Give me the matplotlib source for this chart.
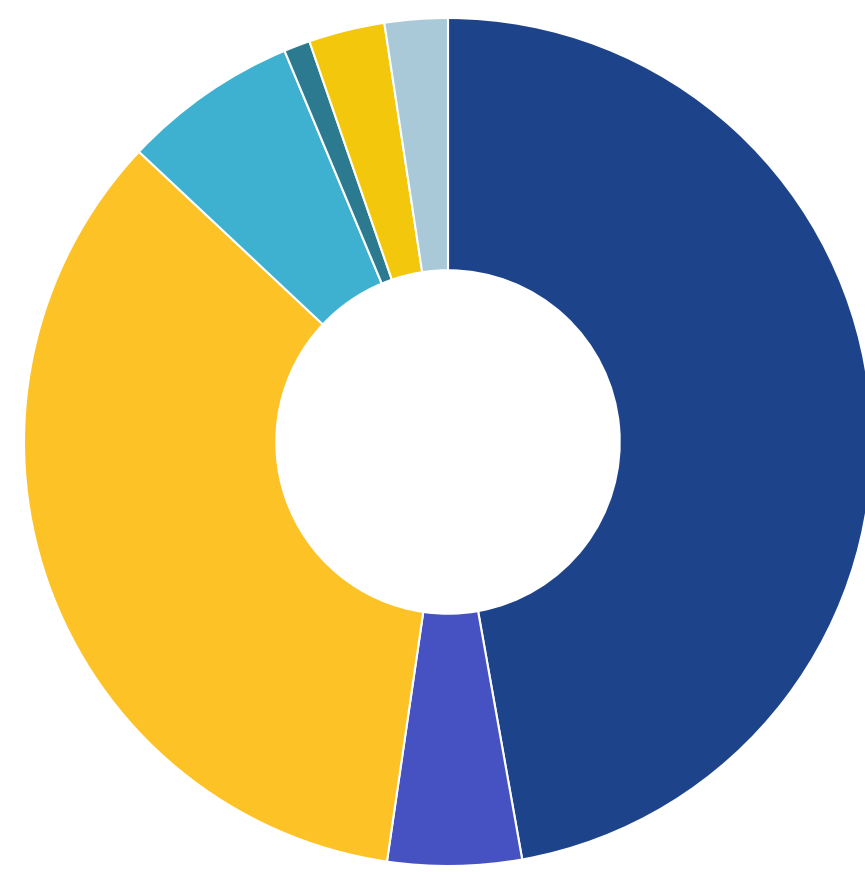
import matplotlib
matplotlib.use('Agg')
import matplotlib.pyplot as plt

# share of each segment (percent), clockwise from 12 o'clock
labels = ['A', 'B', 'C', 'D', 'E', 'F', 'G']
values = [47.2, 5.1, 34.7, 6.7, 1.0, 2.9, 2.4]
colors = ['#1d448b', '#4652c2', '#fdc226', '#3fb1d0', '#2b7a8f', '#f3c80c', '#a9c8d8']

fig = plt.figure(figsize=(8.65, 8.72), dpi=100)
ax = fig.add_axes([0, 0, 1, 1])

ax.pie(values, colors=colors, startangle=90, counterclock=False,
       radius=1.0,
       wedgeprops=dict(width=0.595, edgecolor='white', linewidth=1.5))

# place the centre at about (448, 442) px with radius 424 px
ax.set_xlim(-448 / 424, (865 - 448) / 424)
ax.set_ylim((442 - 872) / 424, 442 / 424)
ax.set_aspect('auto')
ax.axis('off')

fig.savefig('out.png', dpi=100, facecolor='white')
